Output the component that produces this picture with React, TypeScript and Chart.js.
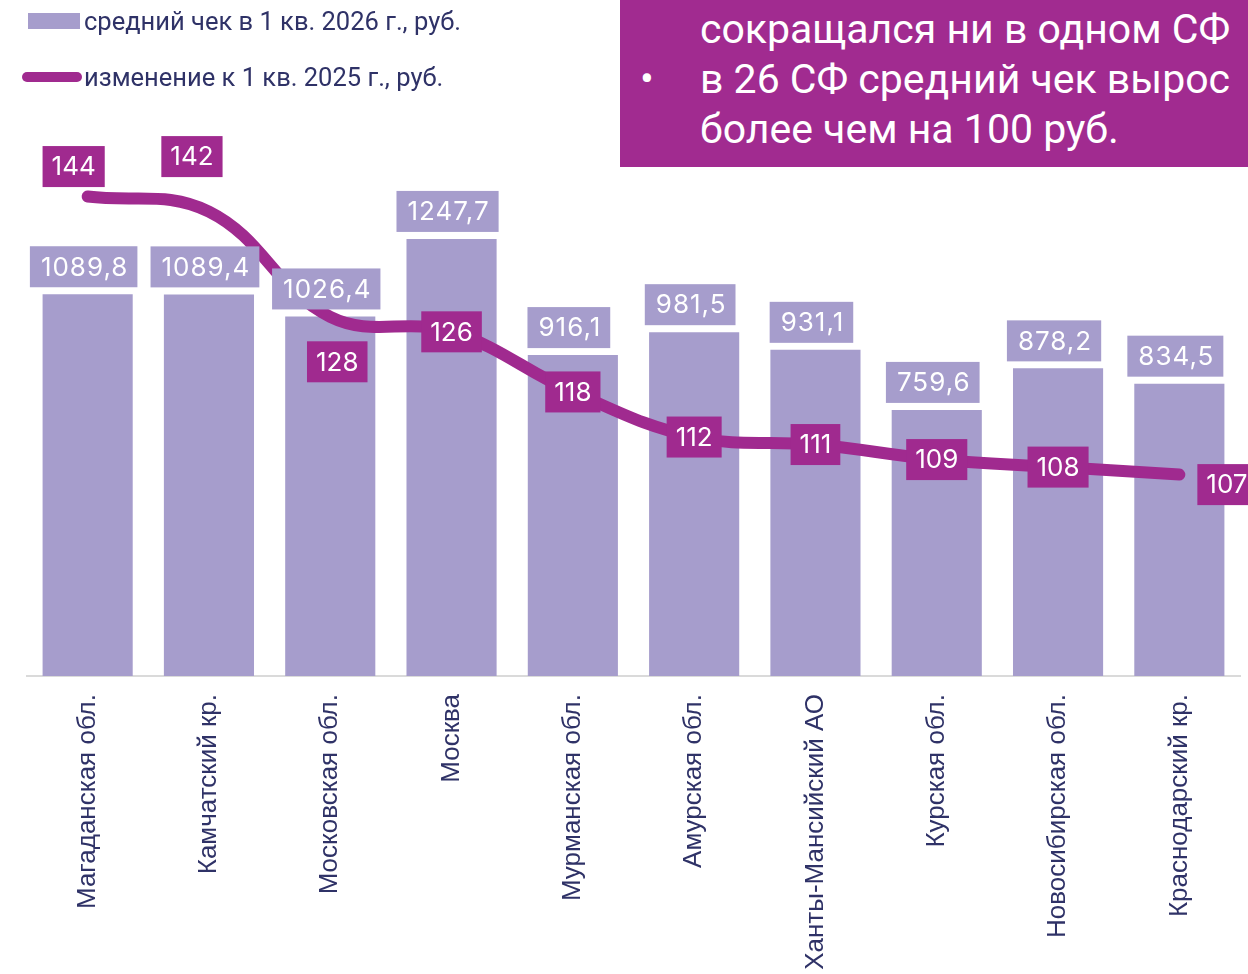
import React, { useEffect, useRef } from "react";
import { Chart, registerables } from "chart.js";

Chart.register(...registerables);

const categories = [
  "Магаданская обл.",
  "Камчатский кр.",
  "Московская обл.",
  "Москва",
  "Мурманская обл.",
  "Амурская обл.",
  "Ханты-Мансийский АО",
  "Курская обл.",
  "Новосибирская обл.",
  "Краснодарский кр.",
];
const avgCheck2026 = [1089.8, 1089.4, 1026.4, 1247.7, 916.1, 981.5, 931.1, 759.6, 878.2, 834.5];
const changeVs2025 = [144, 142, 128, 126, 118, 112, 111, 109, 108, 107];
const changeLabelSide = ["above", "above-far", "below", "center", "center", "center", "center", "center", "center", "right"];
const legendLabels = ["средний чек в 1 кв. 2026 г., руб.", "изменение к 1 кв. 2025 г., руб."];
const noteLines = ["сокращался ни в одном СФ", "в 26 СФ средний чек вырос", "более чем на 100 руб."];

const BAR = "#A69DCC";
const LINE = "#A02A8F";
const NAVY = "#2F3267";
const LABEL_FONT = "26px Inter";

const fmt = (v: number) => v.toFixed(1).replace(".", ",");

const labelsPlugin = {
  id: "valueLabels",
  afterDatasetsDraw(chart: any) {
    const ctx = chart.ctx;
    ctx.save();
    ctx.font = LABEL_FONT;
    ctx.textAlign = "center";
    ctx.textBaseline = "middle";
    const h = 41;
    const barMeta = chart.getDatasetMeta(0);
    ctx.letterSpacing = "1px";
    barMeta.data.forEach((el: any, i: number) => {
      const txt = fmt(avgCheck2026[i]);
      const w = ctx.measureText(txt).width + 20;
      const cx = el.x - 4;
      const bottom = el.y - 7;
      ctx.fillStyle = BAR;
      ctx.fillRect(cx - w / 2, bottom - h, w, h);
      ctx.fillStyle = "#ffffff";
      ctx.fillText(txt, cx + 1, bottom - h / 2 + 1);
    });
    ctx.letterSpacing = "0px";
    const lineMeta = chart.getDatasetMeta(1);
    lineMeta.data.forEach((el: any, i: number) => {
      const txt = String(changeVs2025[i]);
      const w = ctx.measureText(txt).width + 18;
      let cx = el.x;
      let cy = el.y;
      const side = changeLabelSide[i];
      if (side === "above") {
        cx = el.x - 14;
        cy = el.y - 30;
      } else if (side === "above-far") {
        cx = el.x - 17;
        cy = el.y - 55;
      } else if (side === "below") {
        cx = el.x + 7;
        cy = el.y + 45;
      } else if (side === "right") {
        cx = el.x + 18 + w / 2;
        cy = el.y + 10;
      }
      ctx.fillStyle = LINE;
      ctx.fillRect(cx - w / 2, cy - h / 2, w, h);
      ctx.fillStyle = "#ffffff";
      ctx.fillText(txt, cx, cy + 1);
    });
    ctx.restore();
  },
};

export default function App() {
  const canvasRef = useRef<HTMLCanvasElement>(null);

  useEffect(() => {
    const canvas = canvasRef.current;
    if (!canvas) return;
    const chart = new Chart(canvas, {
      type: "bar",
      data: {
        labels: categories,
        datasets: [
          {
            type: "bar",
            label: legendLabels[0],
            data: avgCheck2026,
            backgroundColor: BAR,
            categoryPercentage: 1,
            barPercentage: 0.743,
            yAxisID: "y",
            order: 2,
          },
          {
            type: "line",
            label: legendLabels[1],
            data: changeVs2025,
            borderColor: LINE,
            backgroundColor: LINE,
            borderWidth: 12,
            borderCapStyle: "round",
            borderJoinStyle: "round",
            pointRadius: 0,
            tension: 0.4,
            yAxisID: "y1",
            order: 1,
          },
        ],
      },
      options: {
        responsive: false,
        animation: false,
        layout: { padding: { left: 27, right: 8, top: 100, bottom: 0 } },
        plugins: { legend: { display: false }, tooltip: { enabled: false } },
        scales: {
          x: {
            offset: true,
            grid: { display: false, drawTicks: false },
            border: { display: true, color: "#DADADA", width: 2 },
            ticks: {
              maxRotation: 90,
              minRotation: 90,
              autoSkip: false,
              padding: 18,
              color: NAVY,
              font: { family: "Liberation Sans", size: 26 },
            },
            afterFit: (scale: any) => {
              scale.height = 298;
            },
          },
          y: { display: false, min: 0, max: 1644.3 },
          y1: { display: false, min: 80.2, max: 156.85 },
        },
      },
      plugins: [labelsPlugin],
    } as any);
    return () => chart.destroy();
  }, []);

  const legendText: React.CSSProperties = {
    position: "absolute",
    left: 84,
    fontFamily: "Roboto",
    fontSize: 25.5,
    lineHeight: "30px",
    color: NAVY,
    whiteSpace: "nowrap",
    letterSpacing: 0,
  };
  const noteText: React.CSSProperties = {
    position: "absolute",
    left: 80,
    fontFamily: "Roboto",
    fontSize: 41,
    lineHeight: "50px",
    color: "#ffffff",
    whiteSpace: "nowrap",
  };

  return (
    <div style={{ position: "absolute", left: 0, top: 0, width: 1248, height: 974, overflow: "hidden", background: "#fff" }}>
      <canvas ref={canvasRef} width={1248} height={974} style={{ position: "absolute", left: 0, top: 0 }} />
      <div style={{ position: "absolute", left: 28, top: 13, width: 52, height: 16, background: BAR }} />
      <div style={{ ...legendText, top: 6 }}>{legendLabels[0]}</div>
      <div style={{ position: "absolute", left: 22, top: 72, width: 60, height: 10, borderRadius: 5, background: LINE }} />
      <div style={{ ...legendText, top: 62 }}>{legendLabels[1]}</div>
      <div style={{ position: "absolute", left: 620, top: 0, width: 628, height: 167, background: "#A12B90", overflow: "hidden" }}>
        <div style={{ ...noteText, top: 4 }}>{noteLines[0]}</div>
        <div style={{ ...noteText, left: 20, top: 54 }}>•</div>
        <div style={{ ...noteText, top: 54 }}>{noteLines[1]}</div>
        <div style={{ ...noteText, top: 104 }}>{noteLines[2]}</div>
      </div>
    </div>
  );
}
